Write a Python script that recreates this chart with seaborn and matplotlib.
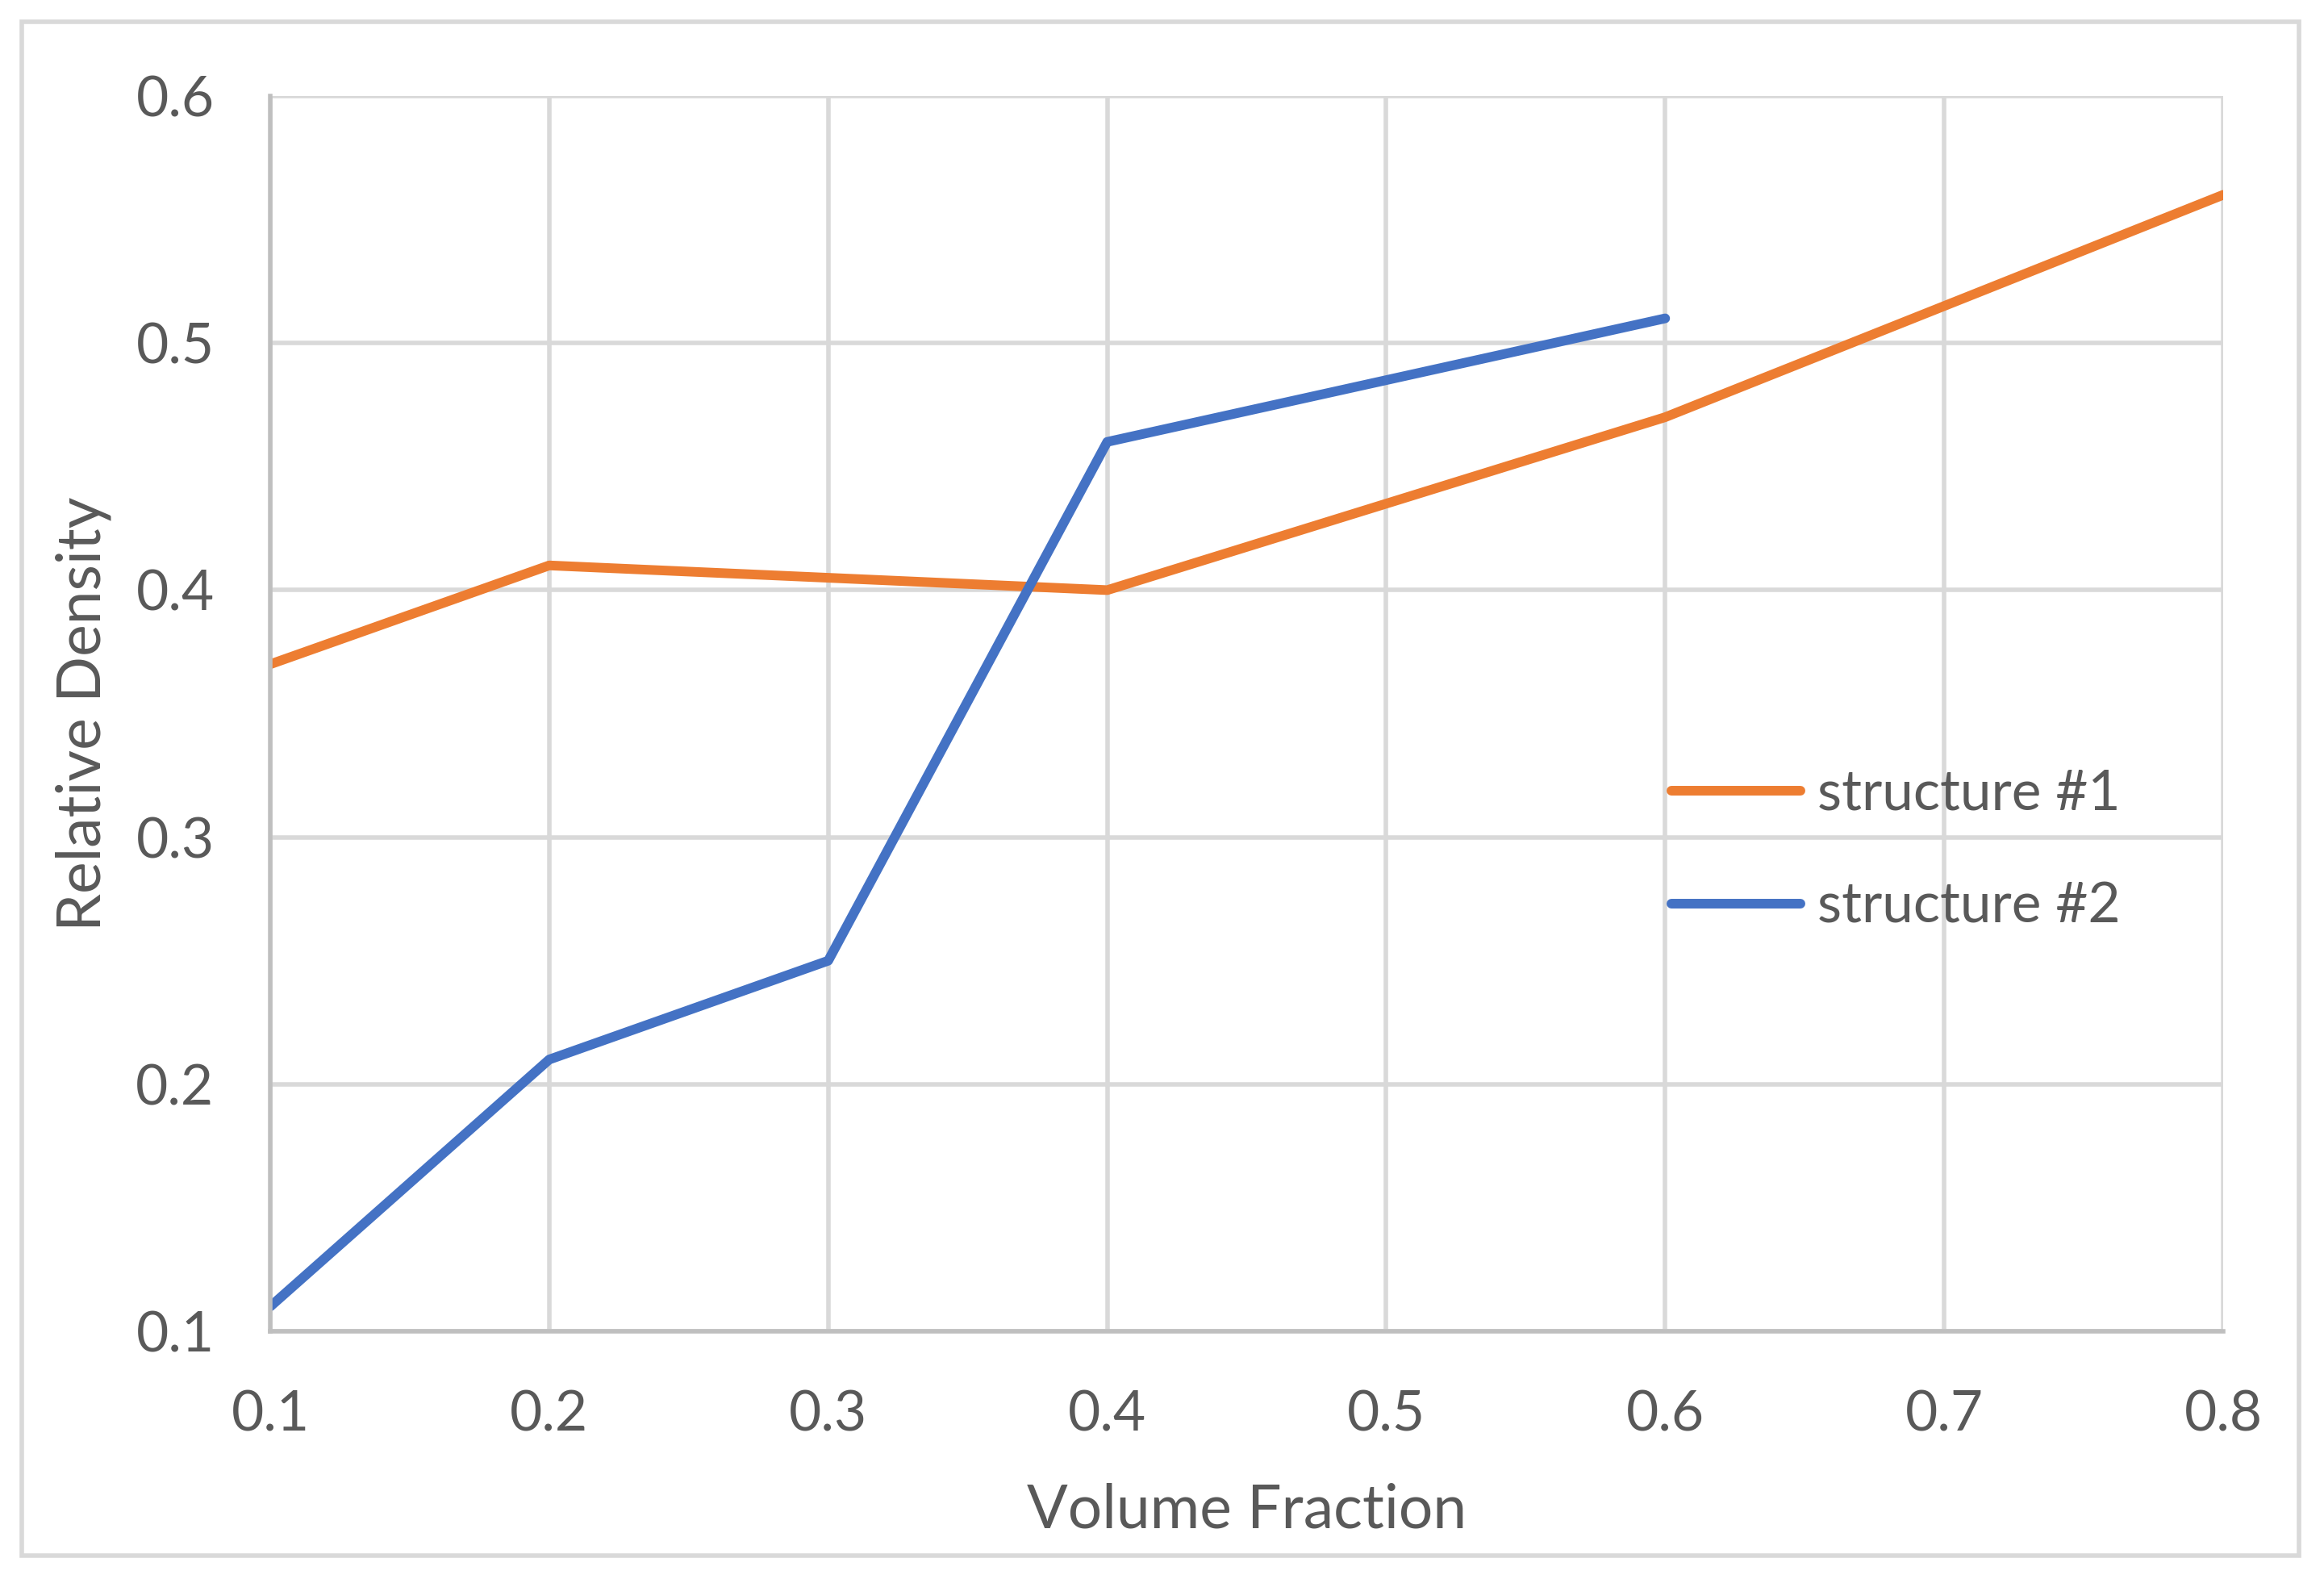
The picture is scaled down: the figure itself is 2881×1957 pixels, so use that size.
import pandas as pd
import seaborn as sns
import matplotlib.pyplot as plt
from matplotlib.patches import Rectangle

# values
x_s1 = [0.1, 0.2, 0.4, 0.6, 0.8]
y_s1 = [0.37, 0.41, 0.40, 0.47, 0.56]
x_s2 = [0.1, 0.2, 0.3, 0.4, 0.6]
y_s2 = [0.11, 0.21, 0.25, 0.46, 0.51]
labels = ['structure #1', 'structure #2']
x_ticks = [0.1, 0.2, 0.3, 0.4, 0.5, 0.6, 0.7, 0.8]
y_ticks = [0.1, 0.2, 0.3, 0.4, 0.5, 0.6]

df = pd.concat([
    pd.DataFrame({'x': x_s1, 'y': y_s1, 'series': labels[0]}),
    pd.DataFrame({'x': x_s2, 'y': y_s2, 'series': labels[1]}),
])

sns.set_style('white')
plt.rcParams['font.family'] = ['Lato', 'DejaVu Sans']
text_col = '#595959'

fig = plt.figure(figsize=(14.405, 9.785), dpi=200)
ax = fig.add_axes([335 / 2881, 1 - 1650 / 1957, (2756 - 335) / 2881, (1650 - 119) / 1957])

sns.lineplot(data=df, x='x', y='y', hue='series', sort=False, ax=ax,
             palette={labels[0]: '#ED7D31', labels[1]: '#4472C4'},
             linewidth=4.3, estimator=None)
for ln in ax.lines:
    ln.set_solid_capstyle('round')

ax.set_xlim(0.1, 0.8)
ax.set_ylim(0.1, 0.6)
ax.set_xticks(x_ticks)
ax.set_yticks(y_ticks)
ax.set_xticklabels([f'{v:.1f}' for v in x_ticks])
ax.set_yticklabels([f'{v:.1f}' for v in y_ticks])
ax.grid(True, color='#D9D9D9', linewidth=2.0)
ax.set_axisbelow(True)
for s in ['top', 'right']:
    ax.spines[s].set_visible(False)
for s in ['left', 'bottom']:
    ax.spines[s].set_color('#BFBFBF')
    ax.spines[s].set_linewidth(2.0)
ax.tick_params(axis='both', length=0, labelsize=25, labelcolor=text_col)
ax.tick_params(axis='x', pad=26)
ax.tick_params(axis='y', pad=25)

ax.set_xlabel('Volume Fraction', fontsize=27, color=text_col, labelpad=19)
ax.set_ylabel('Relative Density', fontsize=27, color=text_col, labelpad=11)

leg = ax.legend(loc='center left', bbox_to_anchor=(0.7175, 0.389), frameon=False,
                fontsize=25, handlelength=2.3, handletextpad=0.3, labelspacing=1.11,
                borderpad=0, borderaxespad=0)
for t in leg.get_texts():
    t.set_color(text_col)
for h in leg.get_lines():
    h.set_linewidth(4.3)
    h.set_solid_capstyle('round')

fig.patches.append(Rectangle((27 / 2881, 1 - 1928 / 1957), (2850 - 27) / 2881, (1928 - 27) / 1957,
                             transform=fig.transFigure, fill=False, edgecolor='#D9D9D9',
                             linewidth=2.0))

fig.savefig('out.png', dpi=200, facecolor='white')
